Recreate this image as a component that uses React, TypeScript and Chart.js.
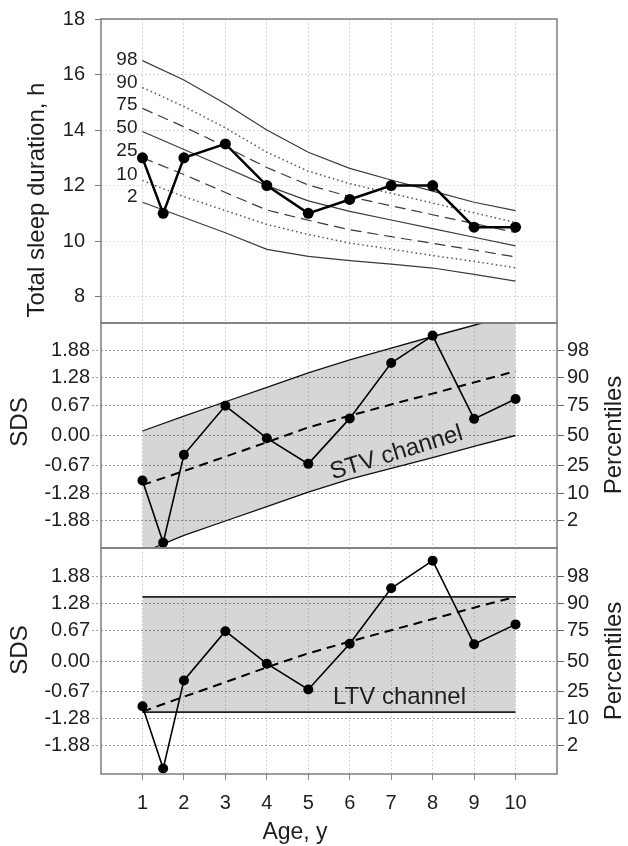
import React, { useEffect, useRef } from "react";
import { Chart, registerables } from "chart.js";

Chart.register(...registerables);

const FONT = "'Liberation Sans', Arial, Helvetica, sans-serif";
const TEXT = "#1e1e1e";

// ---- data ----
const ages = [1, 1.5, 2, 3, 4, 5, 6, 7, 8, 9, 10];
const sleepHours = [13, 11, 13, 13.5, 12, 11, 11.5, 12, 12, 10.5, 10.5];
const sdsValues = [-1.0, -2.38, -0.43, 0.66, -0.06, -0.63, 0.38, 1.61, 2.22, 0.37, 0.81];

const refAges = [1, 2, 3, 4, 5, 6, 7, 8, 9, 10];
const p98 = [16.5, 15.8, 14.95, 14.0, 13.2, 12.62, 12.2, 11.8, 11.4, 11.1];
const p90 = [15.53, 14.85, 14.08, 13.2, 12.52, 12.07, 11.72, 11.37, 11.02, 10.67];
const p75 = [14.78, 14.12, 13.4, 12.65, 12.02, 11.6, 11.27, 10.95, 10.63, 10.31];
const p50 = [13.95, 13.3, 12.65, 12.0, 11.45, 11.07, 10.76, 10.45, 10.14, 9.83];
const p25 = [13.0, 12.4, 11.75, 11.12, 10.75, 10.41, 10.16, 9.92, 9.68, 9.43];
const p10 = [12.18, 11.6, 11.1, 10.6, 10.24, 9.93, 9.71, 9.48, 9.27, 9.04];
const p2 = [11.4, 10.85, 10.3, 9.7, 9.45, 9.3, 9.17, 9.03, 8.8, 8.56];

const percentileNames = ["98", "90", "75", "50", "25", "10", "2"];
const percentileLabelHours = [16.52, 15.7, 14.92, 14.08, 13.25, 12.39, 11.61];
const percentileLabelAge = 0.88;

const hourTicks = [8, 10, 12, 14, 16, 18];
const ageTicks = [1, 2, 3, 4, 5, 6, 7, 8, 9, 10];
const sdsTicks = [-1.88, -1.28, -0.67, 0, 0.67, 1.28, 1.88];
const sdsTickLabels = ["-1.88", "-1.28", "-0.67", "0.00", "0.67", "1.28", "1.88"];
const percentileTickLabels = ["2", "10", "25", "50", "75", "90", "98"];

const stvCenter = [-1.1, -0.79, -0.47, -0.15, 0.18, 0.44, 0.69, 0.93, 1.18, 1.43];
const stvUpper = [0.1, 0.43, 0.75, 1.07, 1.39, 1.68, 1.94, 2.2, 2.45, 2.71];
const stvLower = [-2.6, -2.22, -1.9, -1.58, -1.26, -0.97, -0.73, -0.49, -0.24, 0.0];

const ltvAges = [1, 10];
const ltvUpper = [1.42, 1.42];
const ltvLower = [-1.13, -1.13];
const ltvCenter = [-1.12, -0.79, -0.47, -0.14, 0.17, 0.43, 0.68, 0.93, 1.18, 1.42];

const stvLabel = { age: 7.13, sds: -0.39, text: "STV channel" };
const ltvLabel = { age: 7.2, sds: -0.8, text: "LTV channel" };

// ---- helpers ----
const pts = (xs: number[], ys: number[]) => xs.map((x, i) => ({ x, y: ys[i] }));

const frame = (chart: any) => {
  const { ctx, chartArea: a } = chart;
  ctx.save();
  ctx.strokeStyle = "#7c7c7c";
  ctx.lineWidth = 1.5;
  ctx.strokeRect(a.left, a.top, a.right - a.left, a.bottom - a.top);
  ctx.restore();
};

const vText = (ctx: any, text: string, x: number, y: number, size: number) => {
  ctx.save();
  ctx.translate(x, y);
  ctx.rotate(-Math.PI / 2);
  ctx.font = `${size}px ${FONT}`;
  ctx.fillStyle = TEXT;
  ctx.textAlign = "center";
  ctx.textBaseline = "middle";
  ctx.fillText(text, 0, 0);
  ctx.restore();
};

const xScale = (showLabels: boolean) => ({
  type: "linear",
  min: 0,
  max: 11,
  afterBuildTicks: (s: any) => {
    s.ticks = ageTicks.map((v) => ({ value: v }));
  },
  grid: {
    color: "#d6d6d6",
    lineWidth: 1,
    drawTicks: showLabels,
    tickLength: 6,
    tickColor: "#888",
    tickBorderDash: [],
  },
  border: { display: false, dash: [2, 2] },
  ticks: {
    display: showLabels,
    font: { family: FONT, size: 20 },
    color: TEXT,
    padding: 11,
    maxRotation: 0,
    autoSkip: false,
    callback: (v: any) => String(v),
  },
  afterFit: (s: any) => {
    s.height = showLabels ? 72 : 0;
    s.paddingLeft = 0;
    s.paddingRight = 0;
  },
});

const sdsLeft = () => ({
  type: "linear",
  position: "left",
  min: -2.5,
  max: 2.5,
  afterBuildTicks: (s: any) => {
    s.ticks = sdsTicks.map((v) => ({ value: v }));
  },
  ticks: {
    font: { family: FONT, size: 20 },
    color: TEXT,
    padding: 2,
    callback: (_v: any, i: number) => sdsTickLabels[i],
  },
  grid: { color: "#9c9c9c", tickLength: 9, tickColor: "#9c9c9c", tickBorderDash: [2, 2] },
  border: { display: false, dash: [2, 2] },
  afterFit: (s: any) => {
    s.width = 101;
    s.paddingTop = 0;
    s.paddingBottom = 0;
  },
});

const pctRight = () => ({
  type: "linear",
  position: "right",
  min: -2.5,
  max: 2.5,
  afterBuildTicks: (s: any) => {
    s.ticks = sdsTicks.map((v) => ({ value: v }));
  },
  ticks: {
    font: { family: FONT, size: 20 },
    color: TEXT,
    padding: 3,
    callback: (_v: any, i: number) => percentileTickLabels[i],
  },
  grid: { drawOnChartArea: false, tickLength: 7, tickColor: "#666", color: "#666" },
  border: { display: false },
  afterFit: (s: any) => {
    s.width = 71;
    s.paddingTop = 0;
    s.paddingBottom = 0;
  },
});

const curve = (data: number[], dash: number[], dotted = false) => ({
  data: pts(refAges, data),
  borderColor: dotted ? "#555" : "#3a3a3a",
  borderWidth: dotted ? 1.5 : 1.2,
  borderDash: dash,
  pointRadius: 0,
  fill: false,
});

const baseOptions = (padding: any, scales: any) => ({
  responsive: false,
  animation: false,
  devicePixelRatio: 1,
  layout: { padding },
  plugins: { legend: { display: false }, tooltip: { enabled: false } },
  scales,
});

// ---- panel configs ----
const buildTop = () => ({
  type: "line",
  data: {
    datasets: [
      {
        data: pts(ages, sleepHours),
        borderColor: "#000",
        borderWidth: 2.5,
        pointRadius: 5.5,
        pointBackgroundColor: "#000",
        pointBorderWidth: 0,
        fill: false,
      },
      curve(p98, []),
      curve(p90, [1.5, 3], true),
      curve(p75, [11, 6]),
      curve(p50, []),
      curve(p25, [11, 6]),
      curve(p10, [1.5, 3], true),
      curve(p2, []),
    ],
  },
  options: baseOptions(
    { top: 19, bottom: 17, left: 0, right: 71 },
    {
      x: xScale(false),
      y: {
        type: "linear",
        min: 7.05,
        max: 18,
        afterBuildTicks: (s: any) => {
          s.ticks = hourTicks.map((v) => ({ value: v }));
        },
        ticks: {
          font: { family: FONT, size: 20 },
          color: TEXT,
          padding: 10,
          callback: (v: any) => String(v),
        },
        grid: { color: "#dadada", tickLength: 6, tickColor: "#777", tickBorderDash: [] },
        border: { display: false, dash: [2, 2] },
        afterFit: (s: any) => {
          s.width = 101;
          s.paddingTop = 0;
          s.paddingBottom = 0;
        },
      },
    }
  ),
  plugins: [
    {
      id: "topText",
      afterDraw(chart: any) {
        frame(chart);
        const { ctx } = chart;
        const xs = chart.scales.x;
        const ys = chart.scales.y;
        ctx.save();
        ctx.fillStyle = TEXT;
        ctx.font = `19px ${FONT}`;
        ctx.textAlign = "right";
        ctx.textBaseline = "middle";
        percentileNames.forEach((n, i) => {
          ctx.fillText(n, xs.getPixelForValue(percentileLabelAge), ys.getPixelForValue(percentileLabelHours[i]));
        });
        ctx.restore();
        vText(ctx, "Total sleep duration, h", 37, 200, 24);
      },
    },
  ],
});

const buildMiddle = () => ({
  type: "line",
  data: {
    datasets: [
      {
        data: pts(ages, sdsValues),
        borderColor: "#000",
        borderWidth: 1.6,
        pointRadius: 5,
        pointBackgroundColor: "#000",
        pointBorderWidth: 0,
        fill: false,
      },
      {
        data: pts(refAges, stvCenter),
        borderColor: "#000",
        borderWidth: 2,
        borderDash: [9, 6],
        pointRadius: 0,
        fill: false,
      },
      {
        data: pts(refAges, stvUpper),
        borderColor: "#111",
        borderWidth: 1.3,
        pointRadius: 0,
        fill: "+1",
        backgroundColor: "rgba(0,0,0,0.16)",
      },
      {
        data: pts(refAges, stvLower),
        borderColor: "#111",
        borderWidth: 1.3,
        pointRadius: 0,
        fill: false,
      },
    ],
  },
  options: baseOptions(
    { top: 23, bottom: 22, left: 0, right: 0 },
    { x: xScale(false), y: sdsLeft(), y2: pctRight() }
  ),
  plugins: [
    {
      id: "midText",
      afterDraw(chart: any) {
        frame(chart);
        const { ctx } = chart;
        const xs = chart.scales.x;
        const ys = chart.scales.y;
        ctx.save();
        ctx.translate(xs.getPixelForValue(stvLabel.age), ys.getPixelForValue(stvLabel.sds));
        ctx.rotate((-17 * Math.PI) / 180);
        ctx.font = `24px ${FONT}`;
        ctx.fillStyle = TEXT;
        ctx.textAlign = "center";
        ctx.textBaseline = "middle";
        ctx.fillText(stvLabel.text, 0, 0);
        ctx.restore();
        vText(ctx, "SDS", 20, 122, 24);
        vText(ctx, "Percentiles", 614, 135, 24);
      },
    },
  ],
});

const buildBottom = () => ({
  type: "line",
  data: {
    datasets: [
      {
        data: pts(ages, sdsValues),
        borderColor: "#000",
        borderWidth: 1.6,
        pointRadius: 5,
        pointBackgroundColor: "#000",
        pointBorderWidth: 0,
        fill: false,
      },
      {
        data: pts(refAges, ltvCenter),
        borderColor: "#000",
        borderWidth: 2,
        borderDash: [9, 6],
        pointRadius: 0,
        fill: false,
      },
      {
        data: pts(ltvAges, ltvUpper),
        borderColor: "#222",
        borderWidth: 1.8,
        pointRadius: 0,
        fill: "+1",
        backgroundColor: "rgba(0,0,0,0.16)",
      },
      {
        data: pts(ltvAges, ltvLower),
        borderColor: "#222",
        borderWidth: 1.8,
        pointRadius: 0,
        fill: false,
      },
    ],
  },
  options: baseOptions(
    { top: 18, bottom: 0, left: 0, right: 0 },
    { x: xScale(true), y: sdsLeft(), y2: pctRight() }
  ),
  plugins: [
    {
      id: "botText",
      afterDraw(chart: any) {
        frame(chart);
        const { ctx } = chart;
        const xs = chart.scales.x;
        const ys = chart.scales.y;
        ctx.save();
        ctx.font = `24px ${FONT}`;
        ctx.fillStyle = TEXT;
        ctx.textAlign = "center";
        ctx.textBaseline = "middle";
        ctx.fillText(ltvLabel.text, xs.getPixelForValue(ltvLabel.age), ys.getPixelForValue(ltvLabel.sds));
        ctx.font = `23px ${FONT}`;
        ctx.fillText("Age, y", 295, 303);
        ctx.restore();
        vText(ctx, "SDS", 20, 120, 24);
        vText(ctx, "Percentiles", 614, 131, 24);
      },
    },
  ],
});

function PanelCanvas({ top, height, build }: { top: number; height: number; build: () => any }) {
  const ref = useRef<HTMLCanvasElement | null>(null);
  useEffect(() => {
    const chart = new Chart(ref.current as HTMLCanvasElement, build());
    return () => chart.destroy();
  }, []);
  return (
    <canvas
      ref={ref}
      width={628}
      height={height}
      style={{ position: "absolute", left: 0, top, width: 628, height }}
    />
  );
}

export default function App() {
  return (
    <div
      style={{
        position: "absolute",
        left: 0,
        top: 0,
        width: 628,
        height: 846,
        background: "#fff",
        overflow: "hidden",
      }}
    >
      <PanelCanvas top={0} height={340} build={buildTop} />
      <PanelCanvas top={300} height={270} build={buildMiddle} />
      <PanelCanvas top={530} height={316} build={buildBottom} />
    </div>
  );
}
